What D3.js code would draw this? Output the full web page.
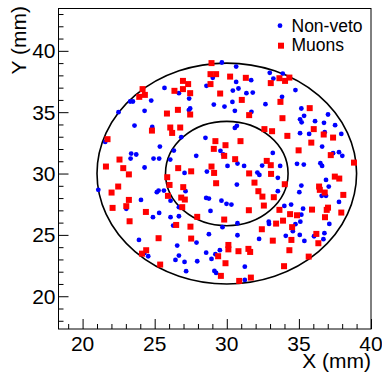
<!DOCTYPE html>
<html>
<head>
<meta charset="utf-8">
<script src="https://cdn.jsdelivr.net/npm/d3@7"></script>
<style>
  html, body { margin: 0; padding: 0; background: #fff; }
  svg { display: block; }
  text { font-family: "Liberation Sans", Arial, Helvetica, sans-serif; fill: #000; }
</style>
</head>
<body>
<svg id="chart" width="382" height="378"></svg>
<script>
// Hit positions (mm) for the two event classes
const nonVeto = [
  [23.30,35.87],[23.49,35.87],[24.76,35.95],[24.30,35.11],[22.49,35.00],[23.60,33.91],[24.83,33.80],[25.36,32.20],
  [21.57,32.58],[23.37,31.63],[23.72,31.55],[23.33,31.22],[24.92,31.22],[25.31,31.22],[24.30,30.49],[29.66,39.05],
  [29.03,37.80],[28.59,37.15],[25.68,36.98],[26.68,36.55],[27.39,36.11],[29.10,35.62],[29.84,35.46],[27.46,35.30],
  [27.37,35.17],[28.52,32.91],[26.84,32.96],[29.56,31.85],[29.75,31.55],[26.33,31.87],[27.88,31.44],[26.08,31.14],
  [27.07,30.05],[28.62,30.16],[30.05,30.62],[30.65,38.72],[32.98,38.21],[33.88,38.15],[33.23,37.74],[31.69,37.61],
  [30.65,37.47],[30.81,36.93],[30.42,36.76],[31.36,36.55],[31.80,36.60],[34.76,36.80],[33.83,36.25],[30.39,35.84],
  [32.68,35.65],[30.56,35.11],[31.71,35.03],[30.70,33.89],[30.56,33.72],[33.19,31.68],[30.74,30.81],[31.20,30.62],
  [32.45,30.65],[33.70,30.62],[34.87,30.79],[32.12,30.08],[35.17,35.30],[35.36,34.70],[35.08,34.42],[35.19,34.17],
  [37.02,34.81],[36.12,34.27],[36.74,34.13],[37.51,33.94],[35.08,33.29],[35.71,33.23],[36.79,33.37],[37.94,33.23],
  [36.61,32.20],[37.37,31.66],[37.78,31.74],[38.01,31.44],[35.34,30.73],[36.49,30.84],[36.61,30.62],[21.09,28.67],
  [25.15,28.48],[25.27,28.61],[24.05,27.85],[23.03,27.12],[25.31,26.79],[24.88,26.44],[23.91,24.59],[24.27,23.51],
  [24.55,23.26],[25.64,28.61],[26.10,27.79],[27.14,28.56],[28.57,28.01],[28.76,27.96],[29.63,27.79],[29.98,27.53],
  [26.68,27.26],[28.87,26.95],[26.10,26.44],[26.68,26.52],[26.28,25.76],[28.76,25.06],[29.70,25.63],[27.90,24.37],
  [26.56,24.13],[28.57,23.55],[29.21,23.42],[29.52,23.75],[26.68,23.31],[26.44,22.96],[27.07,22.80],[27.95,22.85],
  [28.94,23.04],[27.18,22.04],[29.14,22.06],[29.26,21.90],[30.70,29.10],[32.26,29.89],[33.54,29.65],[33.54,28.56],
  [30.32,27.47],[33.99,27.36],[34.46,27.47],[30.74,25.95],[32.91,26.08],[32.93,25.89],[34.76,25.87],[34.58,25.30],
  [34.09,24.92],[30.74,24.97],[32.24,24.67],[31.25,22.41],[31.25,21.33],[36.88,29.48],[37.07,28.94],[35.17,29.02],
  [35.03,28.48],[36.58,28.18],[36.88,28.18],[37.78,27.69],[35.29,27.14],[35.17,26.65],[35.10,26.08],[37.11,25.89],
  [35.06,25.00],[36.05,24.89],[36.77,25.14],[36.70,24.65],[35.38,24.51]
];

const muons = [
  [24.16,36.88],[23.93,36.25],[24.32,36.41],[24.81,33.50],[21.73,32.80],[22.56,31.14],[21.62,30.57],[22.82,30.44],
  [23.21,29.93],[28.94,39.00],[28.87,38.10],[29.26,38.10],[30.23,37.90],[26.96,37.55],[27.32,37.29],[28.87,37.29],
  [26.37,36.74],[26.96,36.88],[27.46,36.55],[29.54,36.52],[26.61,35.19],[25.85,34.89],[27.46,34.81],[26.08,33.75],
  [26.77,33.75],[26.21,33.31],[29.21,32.64],[29.10,32.01],[29.91,32.31],[29.82,31.44],[26.63,30.44],[28.94,30.57],
  [29.12,30.05],[27.53,30.18],[31.32,37.80],[33.05,37.37],[33.65,37.77],[34.04,37.55],[34.34,37.82],[31.04,36.00],
  [33.72,35.84],[31.55,34.76],[33.86,34.51],[32.61,33.62],[33.14,33.45],[34.20,33.07],[30.95,32.64],[34.98,31.89],
  [30.58,31.17],[32.77,31.03],[33.05,30.68],[31.55,30.01],[33.07,29.97],[35.75,35.33],[36.03,33.62],[36.72,33.18],
  [37.37,32.93],[35.86,32.52],[37.21,31.50],[38.82,30.89],[22.47,28.94],[22.01,28.45],[23.21,27.85],[23.03,27.34],
  [22.08,27.20],[24.39,26.87],[23.26,26.11],[25.27,24.73],[24.41,23.75],[24.12,23.47],[25.38,22.58],[25.87,29.70],
  [26.03,29.07],[26.98,28.89],[29.26,29.21],[25.92,28.18],[26.84,28.04],[27.09,27.88],[26.91,27.26],[27.95,26.47],
  [29.82,26.25],[26.49,25.81],[27.48,25.67],[27.53,24.70],[30.11,24.18],[30.11,23.82],[29.40,23.26],[29.91,22.69],
  [29.59,21.66],[31.92,29.26],[34.02,29.13],[32.19,28.56],[32.47,28.12],[33.26,28.07],[32.57,27.39],[31.53,27.01],
  [33.65,27.04],[34.39,26.69],[34.87,26.60],[33.90,26.16],[33.42,25.92],[32.43,25.46],[34.53,25.63],[34.48,24.59],
  [33.19,24.53],[30.81,23.67],[31.50,23.86],[31.62,23.61],[34.34,23.75],[33.97,22.45],[31.67,21.52],[30.86,21.25],
  [37.49,29.75],[37.80,29.59],[36.40,28.94],[36.45,28.67],[36.79,28.45],[38.08,28.26],[35.91,27.06],[37.02,27.22],
  [36.93,27.04],[37.94,26.82],[36.81,26.44],[36.21,25.08],[36.35,24.32],[35.68,23.23]
];

// Axis ranges and ticks (mm)
const xDomain = [18.33, 40];
const yDomain = [17.33, 43.45];
const xMajorTicks = [20, 25, 30, 35, 40];
const yMajorTicks = [20, 25, 30, 35, 40];
const xMinorTicks = [19, 21, 22, 23, 24, 26, 27, 28, 29, 31, 32, 33, 34, 36, 37, 38, 39];
const yMinorTicks = [18, 19, 21, 22, 23, 24, 26, 27, 28, 29, 31, 32, 33, 34, 36, 37, 38, 39, 41, 42, 43];

// Detector rings: centre and radii (mm)
const ringCentre = [30, 30];
const ringRadii = [9, 4.25];

const legendLabels = ["Non-veto", "Muons"];
const xTitle = "X (mm)";
const yTitle = "Y (mm)";

const frame = { left: 58.5, right: 371, top: 8.5, bottom: 329 };

const svg = d3.select("#chart");

const x = d3.scaleLinear().domain(xDomain).range([frame.left, frame.right]);
const y = d3.scaleLinear().domain(yDomain).range([frame.bottom, frame.top]);

// Plot frame
svg.append("rect")
  .attr("x", frame.left).attr("y", frame.top)
  .attr("width", frame.right - frame.left)
  .attr("height", frame.bottom - frame.top)
  .attr("fill", "none").attr("stroke", "#000").attr("stroke-width", 1);

// X axis: ticks point into the frame
const xAxisMajor = d3.axisTop(x).tickValues(xMajorTicks).tickSize(10).tickFormat("");
const xAxisMinor = d3.axisTop(x).tickValues(xMinorTicks).tickSize(5).tickFormat("");
[xAxisMajor, xAxisMinor].forEach(ax => {
  const g = svg.append("g").attr("transform", `translate(0,${frame.bottom})`).call(ax);
  g.select(".domain").remove();
  g.selectAll("line").attr("stroke", "#000").attr("stroke-width", 1);
});
svg.append("g").selectAll("text").data(xMajorTicks).join("text")
  .attr("x", d => x(d)).attr("y", 351)
  .attr("text-anchor", "middle")
  .style("font-size", "21px")
  .text(d => d);

// Y axis
const yAxisMajor = d3.axisRight(y).tickValues(yMajorTicks).tickSize(10).tickFormat("");
const yAxisMinor = d3.axisRight(y).tickValues(yMinorTicks).tickSize(5).tickFormat("");
[yAxisMajor, yAxisMinor].forEach(ax => {
  const g = svg.append("g").attr("transform", `translate(${frame.left},0)`).call(ax);
  g.select(".domain").remove();
  g.selectAll("line").attr("stroke", "#000").attr("stroke-width", 1);
});
svg.append("g").selectAll("text").data(yMajorTicks).join("text")
  .attr("x", 55.5).attr("y", d => y(d) + 7.5)
  .attr("text-anchor", "end")
  .style("font-size", "21px")
  .text(d => d);

// Axis titles
svg.append("text")
  .attr("x", frame.right).attr("y", 368)
  .attr("text-anchor", "end")
  .style("font-size", "21px")
  .text(xTitle);
svg.append("text")
  .attr("transform", "translate(25.5,6) rotate(-90)")
  .attr("text-anchor", "end")
  .style("font-size", "21px")
  .text(yTitle);

// Rings
svg.append("g").selectAll("ellipse").data(ringRadii).join("ellipse")
  .attr("cx", x(ringCentre[0])).attr("cy", y(ringCentre[1]))
  .attr("rx", r => x(ringCentre[0] + r) - x(ringCentre[0]))
  .attr("ry", r => y(ringCentre[1]) - y(ringCentre[1] + r))
  .attr("fill", "none").attr("stroke", "#000").attr("stroke-width", 1.6);

// Markers
const dotR = 2.4;
const sq = 6;
svg.append("g").selectAll("circle").data(nonVeto).join("circle")
  .attr("cx", d => x(d[0])).attr("cy", d => y(d[1]))
  .attr("r", dotR).attr("fill", "#0000ff");
svg.append("g").selectAll("rect").data(muons).join("rect")
  .attr("x", d => x(d[0]) - sq / 2).attr("y", d => y(d[1]) - sq / 2)
  .attr("width", sq).attr("height", sq).attr("fill", "#ff0000");

// Legend
const legend = svg.append("g");
legend.append("circle").attr("cx", 280).attr("cy", 25.7).attr("r", dotR).attr("fill", "#0000ff");
legend.append("rect").attr("x", 281 - sq / 2).attr("y", 45.7 - sq / 2)
  .attr("width", sq).attr("height", sq).attr("fill", "#ff0000");
legend.selectAll("text").data(legendLabels).join("text")
  .attr("x", 291.5).attr("y", (d, i) => 31.5 + i * 19)
  .style("font-size", "17.5px")
  .text(d => d);
</script>
</body>
</html>
